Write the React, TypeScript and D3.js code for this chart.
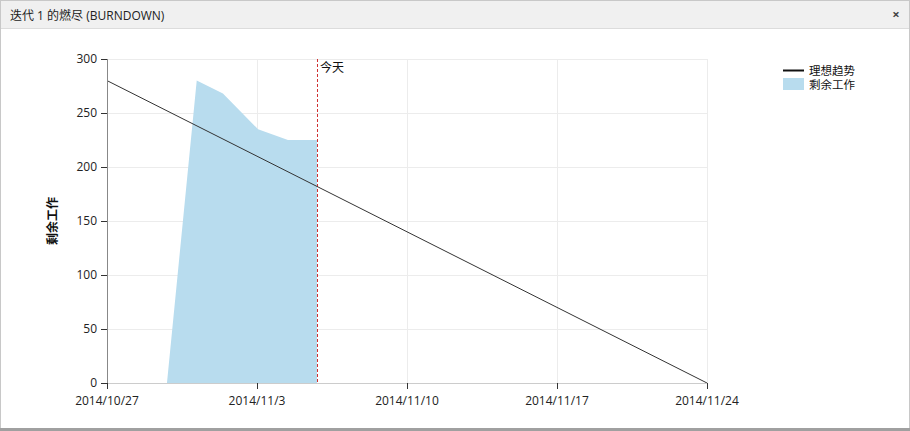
import React from "react";
import * as d3 from "d3";

const W = 910;
const H = 431;

const xTickDates = ["2014-10-27", "2014-11-03", "2014-11-10", "2014-11-17", "2014-11-24"];
const xTickLabels = ["2014/10/27", "2014/11/3", "2014/11/10", "2014/11/17", "2014/11/24"];
const yTicks = [0, 50, 100, 150, 200, 250, 300];

const remainingDates = [
  "2014-10-29T19:10",
  "2014-10-31T04:30",
  "2014-11-01T09:50",
  "2014-11-03T01:10",
  "2014-11-04T10:40",
  "2014-11-05T19:10",
];
const remainingValues = [0, 280, 268, 235, 225, 225];

const idealDates = ["2014-10-27", "2014-11-24"];
const idealValues = [280, 0];

const todayDate = "2014-11-05T19:10";

const legendLabels = ["理想趋势", "剩余工作"];
const title = "迭代 1 的燃尽 (BURNDOWN)";
const yTitle = "剩余工作";
const todayLabel = "今天";

const FONT = "'Segoe UI', 'Open Sans', 'Noto Sans', 'Noto Sans CJK SC', sans-serif";
const AREA = "#b8dcee";

export default function App() {
  const parse = (s: string) => new Date(s);
  const x = d3
    .scaleTime()
    .domain([parse(xTickDates[0]), parse(xTickDates[xTickDates.length - 1])])
    .range([107, 707]);
  const y = d3.scaleLinear().domain([0, 300]).range([383, 59]);

  const remaining = remainingDates.map((d, i) => ({ d: parse(d), v: remainingValues[i] }));
  const ideal = idealDates.map((d, i) => ({ d: parse(d), v: idealValues[i] }));

  const area = d3
    .area<{ d: Date; v: number }>()
    .x((p) => x(p.d))
    .y0(y(0))
    .y1((p) => y(p.v))
    .curve(d3.curveLinear);
  const line = d3
    .line<{ d: Date; v: number }>()
    .x((p) => x(p.d))
    .y((p) => y(p.v));

  const tx = x(parse(todayDate));

  return (
    <div style={{ position: "fixed", left: 0, top: 0, width: W, height: H, background: "#fff" }}>
      <svg width={W} height={H} style={{ display: "block", fontFamily: FONT }}>
        {/* panel */}
        <rect x={0.5} y={0.5} width={W - 1} height={H - 3} fill="#fff" stroke="#c8c8c8" />
        <rect x={1} y={1} width={W - 2} height={27} fill="#f0f0f0" />
        <line x1={1} x2={W - 1} y1={28.5} y2={28.5} stroke="#dcdcdc" />
        <rect x={0} y={H - 3} width={W} height={3} fill="#a0a0a0" />
        <text x={10} y={20} fontSize={12} fill="#222">
          {title}
        </text>
        <text x={896} y={19} fontSize={13} fontWeight="bold" fill="#444" textAnchor="middle">
          ×
        </text>

        {/* grid */}
        {yTicks.map((t) => (
          <line key={"gy" + t} x1={107} x2={707} y1={y(t) + 0.5} y2={y(t) + 0.5} stroke="#ececec" />
        ))}
        {xTickDates.map((t) => (
          <line
            key={"gx" + t}
            x1={Math.round(x(parse(t))) + 0.5}
            x2={Math.round(x(parse(t))) + 0.5}
            y1={y(300)}
            y2={y(0)}
            stroke="#ececec"
          />
        ))}

        {/* area */}
        <path d={area(remaining) || ""} fill={AREA} />

        {/* today */}
        <line
          x1={Math.round(tx) + 0.5}
          x2={Math.round(tx) + 0.5}
          y1={y(300)}
          y2={y(0)}
          stroke="#d03030"
          strokeWidth={1}
          strokeDasharray="3,2"
        />
        <text x={tx + 3} y={y(300) + 13} fontSize={12} fill="#111">
          {todayLabel}
        </text>

        {/* ideal */}
        <path d={line(ideal) || ""} fill="none" stroke="#333" strokeWidth={1} />

        {/* y axis */}
        <line x1={107.5} x2={107.5} y1={y(300)} y2={y(0)} stroke="#888" />
        {yTicks.map((t) => (
          <g key={"ty" + t}>
            <line x1={101} x2={107} y1={y(t) + 0.5} y2={y(t) + 0.5} stroke="#333" />
            <text x={97} y={y(t) + 4} fontSize={12} textAnchor="end" fill="#222">
              {t}
            </text>
          </g>
        ))}
        <text
          transform={`translate(57,${(y(0) + y(300)) / 2}) rotate(-90)`}
          fontSize={12}
          fontWeight="bold"
          textAnchor="middle"
          fill="#111"
        >
          {yTitle}
        </text>

        {/* x axis */}
        <line x1={107} x2={707} y1={383.5} y2={383.5} stroke="#ccc" />
        {xTickDates.map((t, i) => (
          <g key={"tx" + t}>
            <line
              x1={Math.round(x(parse(t))) + 0.5}
              x2={Math.round(x(parse(t))) + 0.5}
              y1={383}
              y2={389}
              stroke="#333"
            />
            <text x={x(parse(t))} y={405} fontSize={12} textAnchor="middle" fill="#222">
              {xTickLabels[i]}
            </text>
          </g>
        ))}

        {/* legend */}
        <line x1={783} x2={804} y1={70.5} y2={70.5} stroke="#111" strokeWidth={2} />
        <text x={809} y={74.5} fontSize={11.5} fill="#111">
          {legendLabels[0]}
        </text>
        <rect x={783} y={78} width={21} height={12} fill={AREA} />
        <text x={809} y={88.5} fontSize={11.5} fill="#111">
          {legendLabels[1]}
        </text>
      </svg>
    </div>
  );
}
